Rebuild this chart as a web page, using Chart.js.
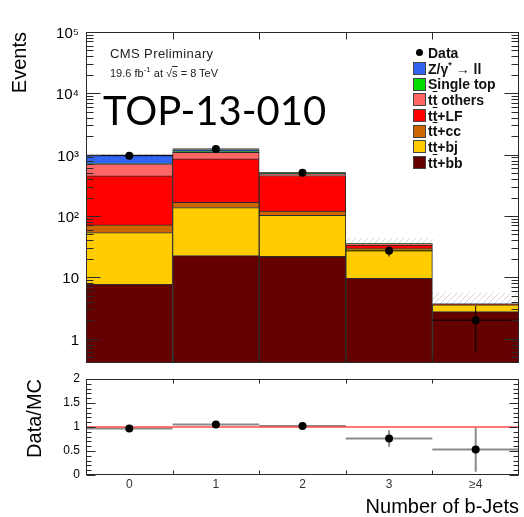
<!DOCTYPE html>
<html>
<head>
<meta charset="utf-8">
<title>Number of b-Jets</title>
<script src="https://cdn.jsdelivr.net/npm/chart.js@4.4.1/dist/chart.umd.min.js"></script>
<style>
  html, body { margin: 0; padding: 0; background: #fff; }
  #page { position: relative; width: 524px; height: 517px; overflow: hidden;
          font-family: "Liberation Sans", Arial, sans-serif; }
  canvas { position: absolute; left: 0; }
  #events { top: 0; }
  #ratio { top: 372px; }
  .label { position: absolute; white-space: nowrap; color: #222; }
  .label sup { font-size: 8px; line-height: 0; vertical-align: 5px; }
  .bar { text-decoration: overline; }
  #cms { left: 110px; top: 47px; font-size: 13px; line-height: 14px; letter-spacing: 0.4px; }
  #lumi { left: 110px; top: 66px; font-size: 11px; line-height: 14px; }
  #tag { left: 103px; top: 89px; font-size: 40px; line-height: 42px; color: #000; font-family: Lato, sans-serif; }
  #legend { position: absolute; left: 413px; top: 45px; font-size: 14px; font-weight: bold; color: #111; }
  #legend .row { display: flex; align-items: center; height: 15.7px; white-space: nowrap; }
  #legend .swatch { width: 13px; height: 13px; box-sizing: border-box; border: 1px solid #444; margin-right: 2px; }
  #legend .dot { width: 13px; margin-right: 2px; display: flex; justify-content: center; }
  #legend .dot i { width: 7px; height: 7px; border-radius: 50%; background: #000; }
  #legend sup { font-size: 9px; line-height: 0; }
</style>
</head>
<body>
<div id="page">
  <canvas id="events" width="524" height="372"></canvas>
  <canvas id="ratio" width="524" height="145"></canvas>
  <div class="label" id="cms">CMS Preliminary</div>
  <div class="label" id="lumi">19.6 fb<sup>-1</sup> at √<span class="bar">s</span> = 8 TeV</div>
  <div class="label" id="tag">TOP-13-010</div>
  <div id="legend"></div>
</div>
<script>
const bins = ['0', '1', '2', '3', '≥4'];

// observed events per b-jet multiplicity, with statistical errors
const dataCounts = [963, 1233, 505, 27, 2];
const dataErr = [31, 35, 22, 5.2, 1.41];

// simulated components, bottom of the stack first
const ttbb = [7.7, 22.5, 22, 9.6, 2.75];
const ttbj = [45.7, 114, 80.6, 19.4, 0.8];
const ttcc = [18, 31, 18, 0.3, 0.03];
const ttLF = [378, 684, 337, 4.3, 0.05];
const ttOthers = [256, 243, 30, 1.5, 0.03];
const singleTop = [5, 30, 4, 0.5, 0.01];
const zll = [285, 50, 3, 0.2, 0.01];

// upper edge of the MC uncertainty band
const mcUp = [1030, 1205, 520, 43, 5.5];

// Data/MC
const ratio = [0.97, 1.05, 1.02, 0.76, 0.53];
const ratioErr = [0.03, 0.03, 0.05, 0.17, 0.46];

const yTickValues = [1, 10, 100, 1000, 10000, 100000];
const yTickLabels = ['1', '10', '10²', '10³', '10⁴', '10⁵'];
const ratioTicks = [0, 0.5, 1, 1.5, 2];

const components = [
  { label: 'tt\u0304+bb', values: ttbb, color: '#640000' },
  { label: 'tt+bj', values: ttbj, color: '#ffcc00' },
  { label: 'tt\u0304+cc', values: ttcc, color: '#cc6600' },
  { label: 'tt\u0304+LF', values: ttLF, color: '#ff0000' },
  { label: 'tt\u0304 others', values: ttOthers, color: '#ff6666' },
  { label: 'Single top', values: singleTop, color: '#00dd00' },
  { label: 'Z/γ* → ll', values: zll, color: '#3463f2' }
];

// floating bars: each component sits on top of the previous ones.
// the log axis can't parse 0, so the lowest bar starts just above it
let runningTop = bins.map(() => 0);
const stackSets = components.map(c => {
  const lo = runningTop;
  const hi = lo.map((v, i) => v + c.values[i]);
  runningTop = hi;
  return {
    type: 'bar',
    label: c.label,
    data: lo.map((v, i) => [v || 1e-3, hi[i]]),
    backgroundColor: c.color,
    borderColor: '#2b2b2b',
    borderWidth: 1,
    order: 2
  };
});
const mcTotal = runningTop;

function hatchPattern(ctx) {
  const c = document.createElement('canvas');
  c.width = c.height = 6;
  const g = c.getContext('2d');
  g.strokeStyle = '#d4d4d4';
  g.lineWidth = 1;
  g.beginPath();
  g.moveTo(0, 6);
  g.lineTo(6, 0);
  g.stroke();
  return ctx.createPattern(c, 'repeat');
}

function logMinors(min, max) {
  const out = [];
  for (let e = -1; e <= 4; e++) {
    for (let m = 2; m <= 9; m++) {
      const v = m * Math.pow(10, e);
      if (v > min && v < max) out.push(v);
    }
  }
  return out;
}

// fixed-width y axis; label overhang must not push the plot box around
function fixedYAxis(s) {
  s.width = 86;
  s.paddingTop = 0;
  s.paddingBottom = 0;
}

// box around the plot with ticks pointing inwards
const frame = {
  id: 'frame',
  afterDraw(chart, args, opts) {
    const { ctx, chartArea: a, scales: { x, y } } = chart;
    const L = Math.round(a.left) + 0.5, R = Math.round(a.right) - 0.5;
    const T = Math.round(a.top) + 0.5, B = Math.round(a.bottom) - 0.5;
    ctx.save();
    ctx.strokeStyle = '#2a2a2a';
    ctx.lineWidth = 1;
    ctx.strokeRect(L, T, R - L, B - T);
    ctx.beginPath();
    for (let i = 1; i < bins.length; i++) {
      const px = Math.round(x.getPixelForValue(i - 0.5)) + 0.5;
      ctx.moveTo(px, B); ctx.lineTo(px, B - opts.xTick);
      ctx.moveTo(px, T); ctx.lineTo(px, T + opts.xTick);
    }
    const mark = (v, len) => {
      const py = Math.round(y.getPixelForValue(v)) + 0.5;
      ctx.moveTo(L, py); ctx.lineTo(L + len, py);
      ctx.moveTo(R, py); ctx.lineTo(R - len, py);
    };
    opts.major.forEach(v => mark(v, opts.majorLen));
    opts.minor.forEach(v => mark(v, opts.minorLen));
    ctx.stroke();
    ctx.restore();
  }
};

// bin-wide horizontal bars and vertical error bars under the points
const errorBars = {
  id: 'errorBars',
  beforeDatasetDraw(chart, args, opts) {
    if (args.index !== 0) return;
    const { ctx, chartArea: a, scales: { x, y } } = chart;
    ctx.save();
    ctx.beginPath();
    ctx.rect(a.left, a.top, a.width, a.height);
    ctx.clip();
    ctx.strokeStyle = opts.color;
    ctx.lineWidth = opts.width;
    opts.values.forEach((v, i) => {
      const yc = y.getPixelForValue(v);
      const xc = x.getPixelForValue(i);
      ctx.beginPath();
      ctx.moveTo(x.getPixelForValue(i - 0.5), yc);
      ctx.lineTo(x.getPixelForValue(i + 0.5), yc);
      ctx.moveTo(xc, y.getPixelForValue(v - opts.errors[i]));
      ctx.lineTo(xc, y.getPixelForValue(v + opts.errors[i]));
      ctx.stroke();
    });
    if (opts.refLine !== undefined) {
      const yr = y.getPixelForValue(opts.refLine);
      ctx.strokeStyle = '#ff4a4a';
      ctx.lineWidth = 1.4;
      ctx.beginPath();
      ctx.moveTo(a.left, yr);
      ctx.lineTo(a.right, yr);
      ctx.stroke();
    }
    ctx.restore();
  }
};

const axisFont = { family: '"Liberation Sans", Arial, sans-serif' };
const eventsCanvas = document.getElementById('events');

new Chart(eventsCanvas, {
  type: 'bar',
  data: {
    labels: bins,
    datasets: [
      {
        type: 'line',
        label: 'Data',
        data: dataCounts,
        showLine: false,
        pointRadius: 4,
        pointBackgroundColor: '#000',
        pointBorderWidth: 0,
        order: 0
      },
      ...stackSets,
      {
        type: 'bar',
        label: 'MC uncertainty',
        data: mcTotal.map((v, i) => [v, mcUp[i]]),
        backgroundColor: hatchPattern(eventsCanvas.getContext('2d')),
        borderWidth: 0,
        order: 3
      }
    ]
  },
  options: {
    responsive: false,
    animation: false,
    datasets: { bar: { barPercentage: 1, categoryPercentage: 1, grouped: false } },
    layout: { padding: { top: 32, right: 5, bottom: 9, left: 0 } },
    plugins: {
      legend: { display: false },
      tooltip: { enabled: false },
      frame: { xTick: 7, major: yTickValues, minor: logMinors(0.4, 1e5), majorLen: 14, minorLen: 7 },
      errorBars: { values: dataCounts, errors: dataErr, color: '#000', width: 1 }
    },
    scales: {
      x: { display: false, offset: true },
      y: {
        type: 'logarithmic',
        min: 0.4,
        max: 1e5,
        afterFit: fixedYAxis,
        afterBuildTicks(s) { s.ticks = yTickValues.map(v => ({ value: v })); },
        grid: { display: false, drawTicks: false },
        border: { display: false },
        ticks: {
          autoSkip: false,
          padding: 7,
          labelOffset: 2,
          color: '#000',
          font: { ...axisFont, size: 15 },
          callback: v => yTickLabels[yTickValues.indexOf(v)]
        },
        title: {
          display: true,
          text: 'Events',
          align: 'end',
          color: '#000',
          font: { ...axisFont, size: 20, lineHeight: 1.2 },
          padding: { top: 8, bottom: 0 }
        }
      }
    }
  },
  plugins: [frame, errorBars]
});

const ratioMinors = [];
for (let k = 1; k < 20; k++) if (k % 5) ratioMinors.push(k / 10);

new Chart(document.getElementById('ratio'), {
  type: 'line',
  data: {
    labels: bins,
    datasets: [{
      label: 'Data/MC',
      data: ratio,
      showLine: false,
      pointRadius: 4,
      pointBackgroundColor: '#000',
      pointBorderWidth: 0
    }]
  },
  options: {
    responsive: false,
    animation: false,
    layout: { padding: { top: 7, right: 5, bottom: 0, left: 0 } },
    plugins: {
      legend: { display: false },
      tooltip: { enabled: false },
      frame: { xTick: 4, major: ratioTicks, minor: ratioMinors, majorLen: 9, minorLen: 5 },
      errorBars: { values: ratio, errors: ratioErr, color: '#8a8a8a', width: 2, refLine: 1 }
    },
    scales: {
      x: {
        offset: true,
        afterFit(s) { s.height = 42; },
        grid: { display: false, drawTicks: false },
        border: { display: false },
        ticks: { padding: 2, color: '#333', font: { ...axisFont, size: 12 } },
        title: {
          display: true,
          text: 'Number of b-Jets',
          align: 'end',
          color: '#000',
          font: { ...axisFont, size: 20, lineHeight: 1 },
          padding: { top: 0, bottom: 0 }
        }
      },
      y: {
        min: 0,
        max: 2,
        afterFit: fixedYAxis,
        afterBuildTicks(s) { s.ticks = ratioTicks.map(v => ({ value: v })); },
        grid: { display: false, drawTicks: false },
        border: { display: false },
        ticks: { padding: 6, color: '#000', font: { ...axisFont, size: 12 }, callback: v => String(v) },
        title: {
          display: true,
          text: 'Data/MC',
          align: 'end',
          color: '#000',
          font: { ...axisFont, size: 20, lineHeight: 1.2 },
          padding: { top: 23, bottom: 0 }
        }
      }
    }
  },
  plugins: [frame, errorBars]
});

// legend, top entry first
const legend = document.getElementById('legend');
const legendHtml = s => s.replace('t\u0304', '<span class="bar">t</span>').replace('*', '<sup>*</sup>');
legend.innerHTML = '<div class="row"><span class="dot"><i></i></span><span>Data</span></div>' +
  components.slice().reverse().map(c =>
    '<div class="row"><span class="swatch" style="background:' + c.color + '"></span><span>' +
    legendHtml(c.label) + '</span></div>'
  ).join('');
</script>
</body>
</html>
